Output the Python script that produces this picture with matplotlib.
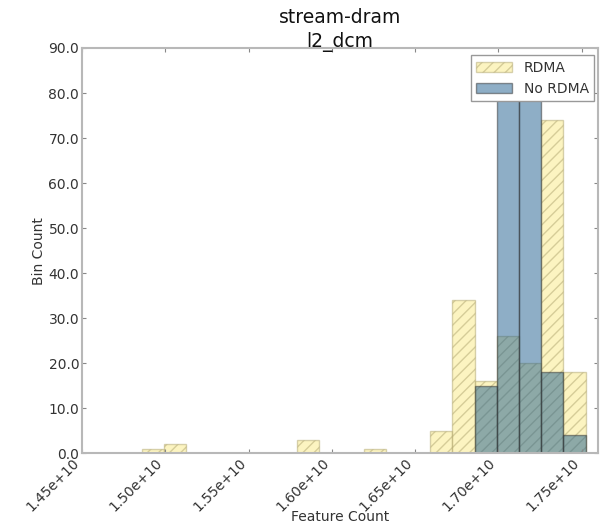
import numpy as np
import matplotlib
matplotlib.use('Agg')
import matplotlib.pyplot as plt
from matplotlib.ticker import FormatStrFormatter, MultipleLocator

# histogram data (20 equal bins between min and max feature count)
feature_min = 1.4860e10
feature_max = 1.7523e10
n_bins = 20
rdma_counts = [1, 2, 0, 0, 0, 0, 0, 3, 0, 0, 1, 0, 0, 5, 34, 16, 26, 20, 74, 18]
no_rdma_counts = [0, 0, 0, 0, 0, 0, 0, 0, 0, 0, 0, 0, 0, 0, 0, 15, 82, 81, 18, 4]
title = 'stream-dram\nl2_dcm'

edges = np.linspace(feature_min, feature_max, n_bins + 1)
centers = (edges[:-1] + edges[1:]) / 2

plt.rcParams['font.family'] = ['DejaVu Sans']
text_color = '#333333'
spine_color = '#b8b8b8'

fig = plt.figure(figsize=(6.05, 5.28), dpi=100, facecolor='white')
ax = fig.add_axes([0.1355, 0.1415, 0.8535, 0.7676])

ax.hist(centers, bins=edges, weights=rdma_counts, color='#fbeb85', alpha=0.5,
        hatch='///', edgecolor='#b0a670', linewidth=1.0, label='RDMA')
ax.hist(centers, bins=edges, weights=no_rdma_counts, color='#1f5f8f', alpha=0.5,
        edgecolor='#303030', linewidth=1.0, label='No RDMA')

ax.set_xlim(1.45e10, 1.76e10)
ax.set_ylim(0, 90)
ax.xaxis.set_major_locator(MultipleLocator(0.05e10))
ax.yaxis.set_major_locator(MultipleLocator(10))
ax.xaxis.set_major_formatter(FormatStrFormatter('%.2e'))
ax.yaxis.set_major_formatter(FormatStrFormatter('%.1f'))

for s in ax.spines.values():
    s.set_color(spine_color)
    s.set_linewidth(1.5)
ax.tick_params(direction='in', length=3, width=0.8, color='#888888', pad=2,
               labelsize=10, labelcolor=text_color, top=True, right=True)
plt.setp(ax.get_xticklabels(), rotation=45, ha='right')

ax.set_xlabel('Feature Count', fontsize=10, color=text_color, labelpad=-3)
ax.set_ylabel('Bin Count', fontsize=10, color=text_color, labelpad=2)
ax.set_title(title, fontsize=13.5, color='#111111', pad=1, linespacing=1.3)

leg = ax.legend(loc='upper right', bbox_to_anchor=(0.992, 0.982), fontsize=10,
                fancybox=False, framealpha=1, edgecolor='#999999',
                handlelength=2.6, borderaxespad=0)
for t in leg.get_texts():
    t.set_color(text_color)

fig.savefig('out.png', dpi=100)
